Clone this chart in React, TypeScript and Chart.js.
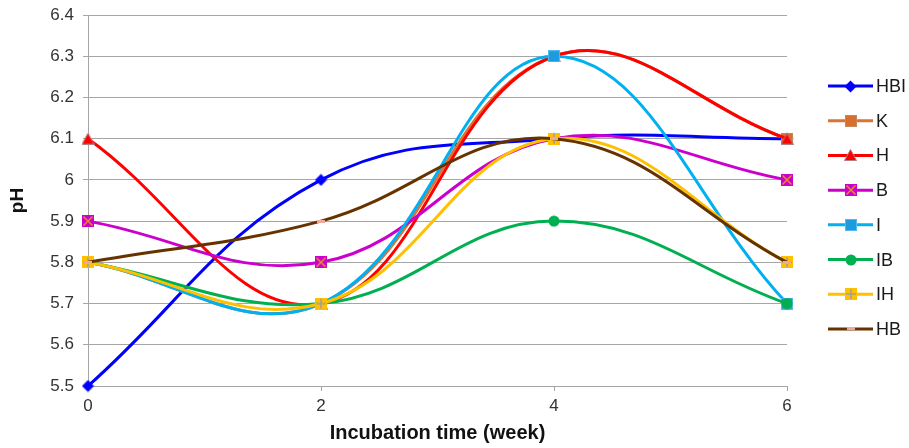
import React, { useEffect, useRef } from "react";
import { Chart, registerables } from "chart.js";

Chart.register(...registerables);

const weeks = [0, 2, 4, 6];
const seriesNames = ["HBI", "K", "H", "B", "I", "IB", "IH", "HB"];
const HBI = [5.5, 6.0, 6.1, 6.1];
const K = [5.8, 5.7, 6.3, 6.1];
const H = [6.1, 5.7, 6.3, 6.1];
const B = [5.9, 5.8, 6.1, 6.0];
const I = [5.8, 5.7, 6.3, 5.7];
const IB = [5.8, 5.7, 5.9, 5.7];
const IH = [5.8, 5.7, 6.1, 5.8];
const HB = [5.8, 5.9, 6.1, 5.8];
const seriesValues = [HBI, K, H, B, I, IB, IH, HB];
const lineColors = ["#0000FF", "#DD7333", "#FF0000", "#CC00CC", "#00B0F0", "#00B050", "#FFC000", "#663300"];
const yTicksMin = 5.5;
const yTicksMax = 6.4;
const xTitle = "Incubation time (week)";
const yTitle = "pH";

const FONT = "'Liberation Sans', Arial, sans-serif";

function mk(w: number, h: number, draw: (c: CanvasRenderingContext2D) => void) {
  const cv = document.createElement("canvas");
  cv.width = w;
  cv.height = h;
  const c = cv.getContext("2d")!;
  draw(c);
  return cv;
}

function makeMarkers(): HTMLCanvasElement[] {
  const diamond = mk(13, 13, (c) => {
    c.fillStyle = "#0000FF";
    c.beginPath();
    c.moveTo(6.5, 0.5);
    c.lineTo(12.5, 6.5);
    c.lineTo(6.5, 12.5);
    c.lineTo(0.5, 6.5);
    c.closePath();
    c.fill();
  });
  const kSq = mk(12, 12, (c) => {
    c.fillStyle = "#D96E2E";
    c.fillRect(0, 0, 12, 12);
    c.strokeStyle = "#C8875A";
    c.lineWidth = 1;
    c.strokeRect(0.5, 0.5, 11, 11);
  });
  const tri = mk(13, 12, (c) => {
    c.fillStyle = "#FF0000";
    c.strokeStyle = "#B08080";
    c.lineWidth = 1;
    c.beginPath();
    c.moveTo(6.5, 0.5);
    c.lineTo(12.5, 11.5);
    c.lineTo(0.5, 11.5);
    c.closePath();
    c.fill();
    c.stroke();
  });
  const bSq = mk(12, 12, (c) => {
    c.fillStyle = "#CC00CC";
    c.fillRect(0, 0, 12, 12);
    c.strokeStyle = "#E88A2A";
    c.lineWidth = 1.5;
    c.beginPath();
    c.moveTo(1.5, 1.5);
    c.lineTo(10.5, 10.5);
    c.moveTo(10.5, 1.5);
    c.lineTo(1.5, 10.5);
    c.stroke();
  });
  const iSq = mk(12, 12, (c) => {
    c.fillStyle = "#1E9BDF";
    c.fillRect(0, 0, 12, 12);
    c.strokeStyle = "#55B8EE";
    c.lineWidth = 1;
    c.strokeRect(0.5, 0.5, 11, 11);
  });
  const circ = mk(12, 12, (c) => {
    c.fillStyle = "#00B050";
    c.beginPath();
    c.arc(6, 6, 5.5, 0, Math.PI * 2);
    c.fill();
  });
  const ihSq = mk(12, 12, (c) => {
    c.fillStyle = "#FFC000";
    c.fillRect(0, 0, 12, 12);
    c.strokeStyle = "#A0A0A0";
    c.lineWidth = 1.5;
    c.beginPath();
    c.moveTo(6, 1);
    c.lineTo(6, 11);
    c.moveTo(1, 6);
    c.lineTo(11, 6);
    c.stroke();
  });
  const dash = mk(8, 3, (c) => {
    c.fillStyle = "#F2A898";
    c.fillRect(0, 0, 8, 3);
  });
  return [diamond, kSq, tri, bSq, iSq, circ, ihSq, dash];
}

const PLOT_TOP = 15;

const topFixPlugin = {
  id: "topFix",
  afterLayout(chart: any) {
    const y = chart.scales.y;
    const area = chart.chartArea;
    y.top = PLOT_TOP;
    y.height = y.bottom - PLOT_TOP;
    area.top = PLOT_TOP;
    area.height = area.bottom - PLOT_TOP;
    y.configure();
  },
};

const legendPlugin = {
  id: "lineMarkerLegend",
  afterDraw(chart: any) {
    const ctx = chart.ctx as CanvasRenderingContext2D;
    const area = chart.chartArea;
    const n = chart.data.datasets.length;
    const spacing = 34.7;
    const startY = (area.top + area.bottom) / 2 - ((n - 1) * spacing) / 2 + 7;
    const x0 = area.right + 41;
    ctx.save();
    chart.data.datasets.forEach((ds: any, i: number) => {
      const y = startY + i * spacing;
      ctx.strokeStyle = ds.borderColor;
      ctx.lineWidth = 3;
      ctx.beginPath();
      ctx.moveTo(x0, y);
      ctx.lineTo(x0 + 45, y);
      ctx.stroke();
      const img = ds.pointStyle as HTMLCanvasElement;
      ctx.drawImage(img, Math.round(x0 + 22.5 - img.width / 2), Math.round(y - img.height / 2));
      ctx.fillStyle = "#1a1a1a";
      ctx.font = `18px ${FONT}`;
      ctx.textBaseline = "middle";
      ctx.textAlign = "left";
      ctx.fillText(ds.label, x0 + 48, y + 1);
    });
    ctx.restore();
  },
};

export default function App() {
  const ref = useRef<HTMLCanvasElement | null>(null);
  useEffect(() => {
    document.body.style.margin = "0";
    const markers = makeMarkers();
    const n = seriesNames.length;
    const chart = new Chart(ref.current!, {
      type: "line",
      data: {
        datasets: seriesNames.map((name, i) => ({
          label: name,
          data: weeks.map((w, j) => ({ x: w, y: seriesValues[i][j] })),
          borderColor: lineColors[i],
          backgroundColor: lineColors[i],
          borderWidth: 3,
          tension: 0.4,
          pointStyle: markers[i],
          pointRadius: 6,
          clip: false as any,
          order: n - i,
        })),
      },
      options: {
        animation: false,
        responsive: false,
        events: [],
        layout: { padding: { top: 11, right: 122, left: 0, bottom: 0 } },
        plugins: { legend: { display: false }, tooltip: { enabled: false } },
        scales: {
          x: {
            type: "linear",
            min: 0,
            max: 6,
            afterFit: (s: any) => {
              s.height = 62;
            },
            ticks: {
              stepSize: 2,
              color: "#333",
              padding: 5,
              font: { family: FONT, size: 17 },
            },
            grid: { drawOnChartArea: false, tickLength: 5, color: "#A6A6A6" },
            border: { color: "#A6A6A6" },
            title: {
              display: true,
              text: xTitle,
              color: "#111",
              padding: { top: 0, bottom: 3 },
              font: { family: FONT, size: 20, weight: "bold" },
            },
          },
          y: {
            min: yTicksMin,
            max: yTicksMax,
            afterFit: (s: any) => {
              s.width = 88;
            },
            ticks: {
              stepSize: 0.1,
              color: "#333",
              padding: 9,
              font: { family: FONT, size: 17 },
              callback: (v: any) => String(Number(Number(v).toFixed(1))),
            },
            grid: { tickLength: 5, color: "#A6A6A6" },
            border: { color: "#A6A6A6" },
            title: {
              display: true,
              text: yTitle,
              color: "#111",
              padding: { top: 6, bottom: 0 },
              font: { family: FONT, size: 19, weight: "bold" },
            },
          },
        },
      },
      plugins: [topFixPlugin, legendPlugin],
    });
    return () => chart.destroy();
  }, []);
  return (
    <div style={{ width: 909, height: 448 }}>
      <canvas ref={ref} width={909} height={448} />
    </div>
  );
}
